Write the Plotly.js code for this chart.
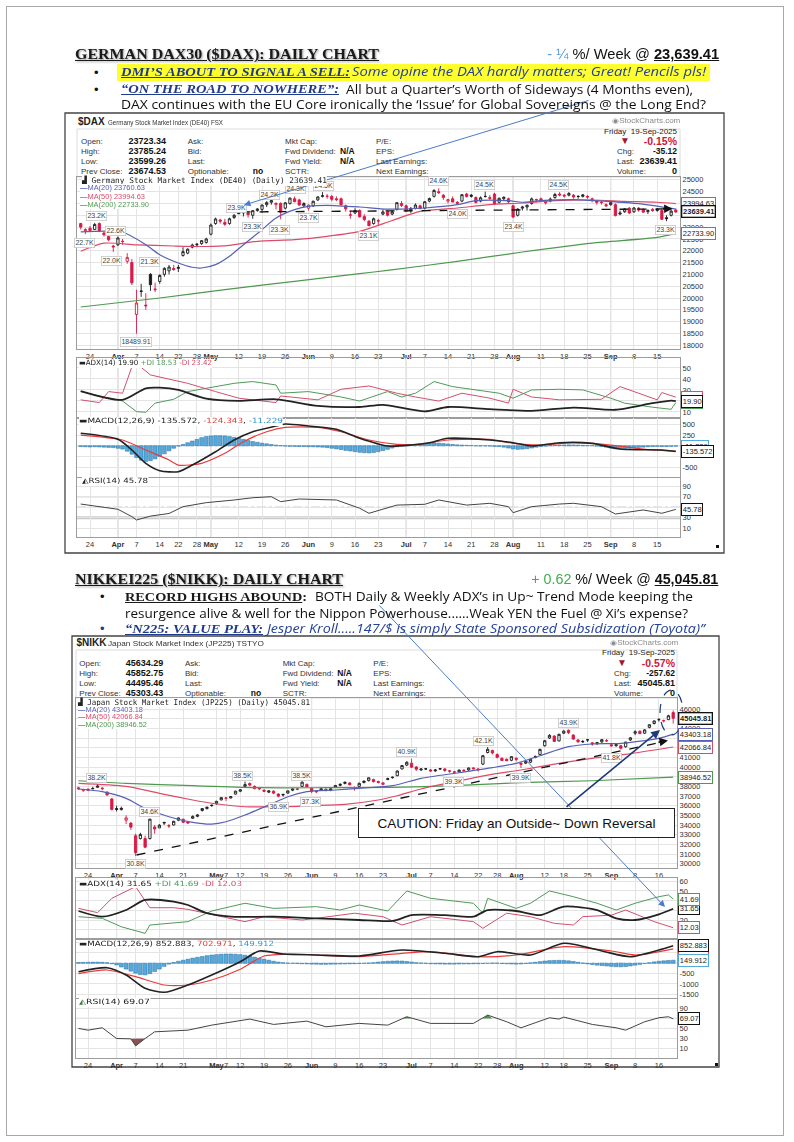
<!DOCTYPE html>
<html><head><meta charset="utf-8">
<script src="https://cdn.plot.ly/plotly-3.0.1.min.js"></script>
<style>
html,body{margin:0;padding:0;background:#fff;}
body{width:794px;height:1142px;position:relative;overflow:hidden;}
#page{position:absolute;left:6px;top:6px;width:778px;height:1130px;border:1px solid #a8a8a8;box-sizing:border-box;z-index:0;}
#plot{position:absolute;left:0;top:0;width:794px;height:1142px;z-index:1;}
#ov{position:absolute;left:0;top:0;width:794px;height:1142px;z-index:2;pointer-events:none;}
.t{position:absolute;white-space:nowrap;}
</style></head><body>
<div id="page"></div>
<div id="plot"></div>
<div id="ov"></div>
<script>
// ---------------- DATA ----------------
const dax_closed=['2025-04-18','2025-04-21','2025-05-01'];
const nk_closed=['2025-03-20','2025-04-29','2025-05-05','2025-05-06','2025-07-21','2025-08-11','2025-09-15'];

const dax_open=[
23150,22850,22950,22900,23150,22750,22600,22200,22250,22400,
21550,21500,19300,20300,19700,21000,20350,20700,21000,21150,
21250,21250,21800,21900,22150,22250,22300,22350,22700,23150,
23300,23200,23150,23400,23750,23600,23600,23500,23700,23750,
23950,24050,23950,24000,23800,24000,24200,24150,23900,23800,
23900,24150,24300,24300,24300,24200,24200,23900,23500,23600,
23700,23450,23250,23150,23250,23550,23650,23550,23750,24000,
23900,23700,23800,23900,23800,24100,24300,24500,24350,24100,
24200,24050,24100,24400,24350,24250,24100,24300,24250,24400,
24050,24200,24200,23900,23500,23800,23850,24000,24150,24200,
24100,24100,24250,24400,24350,24350,24350,24300,24300,24300,
24200,24100,24050,23950,23950,23950,23550,23650,23800,23650,
23800,23750,23650,23750,23700,23700,23400,23500,23723];
const dax_high=[
23180,22950,23050,23180,23200,22800,22650,22250,22600,22500,
21900,21650,20350,20600,20200,21050,20650,21000,21300,21400,
21400,21400,22150,22100,22300,22330,22450,22550,23150,23400,
23350,23350,23400,23550,23911,23700,23650,23720,23800,23950,
24100,24150,24050,24050,24050,24250,24300,24200,24050,23950,
24120,24300,24480,24400,24350,24300,24250,23950,23700,23800,
23750,23550,23300,23400,23350,23750,23700,23700,24050,24100,
23950,23850,24000,23950,24100,24250,24600,24640,24400,24200,
24300,24100,24400,24450,24400,24300,24300,24500,24350,24450,
24250,24300,24250,23950,23800,23900,23950,24250,24200,24250,
24150,24250,24450,24480,24400,24480,24400,24350,24400,24350,
24250,24150,24100,24000,24100,24000,23700,23800,23850,23850,
23850,23800,23750,23800,23800,23750,23500,23750,23785];
const dax_low=[
22900,22700,22800,22880,22800,22600,22400,21950,22200,22250,
21450,20550,18490,20050,19500,20300,20250,20600,20900,21000,
21150,21100,21750,21850,22100,22150,22250,22300,22650,23100,
23150,23050,23100,23350,23550,23450,23400,23350,23650,23600,
23850,23950,23750,23330,23750,23950,24050,23900,23850,23700,
23850,24100,24250,24200,24100,24100,23900,23650,23350,23550,
23400,23250,23050,23100,23050,23500,23450,23500,23700,23850,
23650,23600,23750,23750,23750,24050,24250,24400,24150,24000,
24050,23980,24050,24250,24250,24000,24050,24250,24150,23950,
24000,24100,24000,23380,23450,23700,23700,23950,24050,24050,
23950,24050,24200,24300,24250,24300,24200,24200,24250,24200,
24050,23950,23950,23850,23900,23450,23500,23600,23550,23600,
23650,23600,23550,23650,23650,23300,23250,23450,23599];
const dax_close=[
22999,22892,22853,23110,22839,22679,22462,22163,22540,22391,
21717,20642,19790,20280,19671,20563,20374,20955,21254,21311,
21206,21294,21962,22065,22242,22272,22426,22497,23087,23344,
23250,23116,23353,23499,23567,23639,23527,23696,23767,23935,
24036,24122,23999,23630,24028,24226,24076,23933,23997,23931,
24092,24276,24324,24304,24174,24163,23949,23771,23516,23699,
23435,23318,23057,23351,23269,23642,23498,23649,24033,23910,
23673,23790,23933,23787,24074,24207,24550,24457,24255,24161,
24060,24009,24371,24290,24308,24043,24241,24296,24218,23970,
24217,24262,24065,23426,23758,23846,23924,24193,24163,24081,
24025,24186,24378,24359,24315,24423,24277,24293,24363,24273,
24153,24046,24040,23902,24037,23487,23595,23770,23597,23807,
23718,23633,23704,23698,23749,23329,23359,23675,23639.41];

const dax_ma20_i=[0,9,14,17,21,24,26,29,32,35,39,42,46,49,53,60,66,74,81,85,92,95,99,106,113,120,128];
const dax_ma20_v=[22800,22780,22255,21833,21480,21300,21270,21410,21765,22255,22890,23385,23737,23880,23920,23850,23760,23808,23948,24117,24117,24050,24117,24160,24090,23990,23760.63];
const dax_ma50_i=[0,5,12,20,27,32,38,46,53,60,67,73,81,88,95,102,110,117,124,128];
const dax_ma50_v=[21980,22320,22250,22200,22180,22230,22400,22470,22610,22820,23280,23668,23808,23948,24020,24117,24145,24090,24050,23994.63];
const dax_ma200_i=[0,17,31,46,60,66,81,95,110,124,128];
const dax_ma200_v=[19620,20000,20352,20707,21030,21170,21550,21945,22325,22565,22733.9];

const dax_adx_i=[0,9,14,17,21,27,34,42,51,60,65,74,79,88,97,106,115,123,127,128];
const dax_adx_v=[29,21,31.5,32,30,22,20,21.5,15.5,14.5,16.5,10.5,14.5,12.5,11,14,12,18,20.3,19.9];
const dax_pdi_i=[0,6,9,12,14,16,20,23,28,33,37,42,43,49,56,60,66,69,72,76,80,85,90,93,97,103,108,114,117,123,127,128];
const dax_pdi_v=[28.5,22.5,19.9,10.3,9.7,18,21.5,28.5,32.4,36,37.6,34.5,27,28.5,23.6,19.9,28.5,23.6,27,37.6,33,30,27,22.5,30,30.6,30,22.5,18,14.3,12.4,18.53];
const dax_mdi_i=[0,4,6,9,11,12,15,19,23,29,34,42,43,51,56,62,68,72,77,82,88,92,93,97,103,112,116,120,124,125,128];
const dax_mdi_v=[21,18.5,28.5,27,51,54,43.6,39.7,36,28.5,22.5,18.5,24.5,21,30.6,33.6,27,23.6,19.9,27,22.5,18,30.6,23.6,21,21.5,33,27,21,27.6,23.42];

const dax_macd_i=[0,8,11,14,17,21,24,29,33,37,42,44,49,55,60,66,71,75,79,88,93,97,103,110,116,125,128];
const dax_macd_v=[291,150,-101,-414,-587,-611,-454,-141,134,329,463,510,463,385,174,-7,16,71,174,134,71,-7,71,56,-78,-101,-135.572];
const dax_sig_i=[0,9,14,19,21,26,31,35,40,44,51,56,62,68,73,79,88,93,99,106,114,121,128];
const dax_sig_v=[251,134,-101,-336,-454,-414,-179,94,329,432,432,329,134,33,33,134,150,56,16,71,16,-78,-124.343];
const dax_hist=[
-20,-25,-30,-25,-30,-35,-40,-45,-60,-80,
-130,-200,-280,-340,-370,-350,-310,-250,-190,-120,
-60,-10,30,70,110,150,190,215,230,235,
235,230,215,195,175,150,125,100,80,60,
45,30,15,5,-10,-15,-15,-20,-20,-25,
-25,-30,-35,-45,-60,-75,-90,-110,-125,-140,
-155,-165,-170,-160,-140,-115,-85,-55,-25,-5,
10,20,30,40,50,60,65,60,50,40,
30,20,15,10,5,0,-5,-5,-10,-15,
-20,-35,-55,-75,-85,-80,-70,-55,-35,-20,
-10,5,10,15,18,20,18,15,10,5,
0,-10,-20,-35,-55,-70,-75,-70,-60,-50,
-40,-35,-25,-20,-15,-20,-20,-15,-11.229];
const dax_rsi_i=[0,3,8,11,12,15,19,22,27,33,37,41,43,47,55,60,62,68,74,77,83,88,92,93,97,103,106,112,115,121,125,128];
const dax_rsi_v=[56,52,46,32,25.6,33,38,51,58.6,63.7,68,70,60.5,65.6,63.7,48,38.4,54,55.5,63.7,54,57.4,51,39.5,51,56,57.4,51,37,44.7,38.4,45.78];

const dax_tick_dates=['2025-03-24','2025-04-01','2025-04-07','2025-04-14','2025-04-22','2025-04-28','2025-05-02','2025-05-12','2025-05-19','2025-05-26','2025-06-02','2025-06-09','2025-06-16','2025-06-23','2025-07-01','2025-07-07','2025-07-14','2025-07-21','2025-07-28','2025-08-01','2025-08-11','2025-08-18','2025-08-25','2025-09-01','2025-09-08','2025-09-15'];
const dax_tick_text=['24','Apr','7','14','22','28','May','12','19','26','Jun','9','16','23','Jul','7','14','21','28','Aug','11','18','25','Sep','8','15'];
const dax_month_dates=['2025-04-01','2025-05-02','2025-06-02','2025-07-01','2025-08-01','2025-09-01'];
const dax_price_ticks=[18000,18500,19000,19500,20000,20500,21000,21500,22000,22500,23000,23500,24000,24500,25000];
const dax_adx_ticks=[10,20,30,40,50];
const dax_macd_ticks=[-500,-250,0,250,500];
const rsi_ticks=[10,30,50,70,90];

const dax_lbl_text=['23.2K','22.7K','22.6K','22.0K','21.3K','18489.91','23.9K','23.3K','24.2K','23.3K','24.3K','23.7K','24.5K','23.1K','24.6K','24.5K','24.0K','23.4K','24.5K','23.3K'];
const dax_lbl_i=[3.4,0.9,7.4,6.7,14.9,11.9,33.6,36.9,40.7,42.7,46.1,48.9,52.2,61.8,76.9,86.8,81,93,102.7,125.7];
const dax_lbl_p=[23452,22324,22818,21576,21520,18127,23803,22987,24365,22873,24606,23380,24720,22632,24957,24762,23549,22987,24762,22873];

// NIKKEI
const nk_open=[
37850,37550,37700,37750,37900,37750,37400,36700,35700,35600,
34500,34200,32900,32600,32600,32600,33800,33700,34200,33900,
34000,34500,34600,34300,34700,34900,35500,35700,36000,36200,
36600,36800,36800,37200,37500,38000,38300,38000,37800,37600,
37400,37500,37200,37100,37300,37600,37700,38000,38200,37800,
37500,37600,37700,37600,37900,38100,38300,38350,37800,38000,
38400,38600,38700,38500,38200,38700,38900,39100,39800,40200,
40400,40000,39700,39800,39700,39600,39800,39800,39600,39500,
39500,39600,39700,39900,39700,40300,41500,41700,41300,40900,
40800,40700,40900,40400,40400,40500,41000,41300,42200,43000,
43200,42700,43500,43800,43300,42800,42600,42800,42500,42400,
42600,42700,42300,42200,42200,42100,42800,43500,43700,43500,
44100,44500,44900,44800,44900,45634.29];
const nk_high=[
37950,37750,37800,37950,38220,37900,37500,36800,36000,35900,
35000,34300,33100,33200,32900,34639,34000,34100,34300,34100,
34450,34800,34650,34400,35000,35100,35750,35900,36100,36500,
36900,36900,37000,37550,37700,38494,38400,38100,37900,37700,
37600,37600,37300,37250,37550,37800,37850,38500,38300,37900,
37600,37800,37800,37800,38150,38300,38500,38450,38000,38400,
38600,38900,38800,38600,38450,38900,39000,39650,40200,40600,
40852,40100,39900,39900,39800,39800,39900,39900,39700,39600,
39750,39750,39950,40000,39900,41250,42065,41800,41400,41000,
40900,41100,41000,40500,40600,40850,41200,41900,42800,43400,
43300,43450,43800,43876,43400,42900,42800,42900,42600,42600,
42900,42900,42500,42400,42300,42600,43100,43800,43800,43900,
44400,44800,45050,44900,45400,45852.75];
const nk_low=[
37650,37450,37500,37700,37850,37600,37000,35500,35400,35500,
34100,33500,30793,32500,31600,32500,33100,33700,34000,33700,
33950,34400,34200,34100,34650,34800,35400,35600,35900,36100,
36550,36500,36750,37150,37400,37950,38000,37700,37600,37400,
37300,37200,36856,36950,37250,37500,37600,37950,37900,37300,
37300,37550,37500,37500,37850,38000,38200,38100,37550,37950,
38300,38500,38400,38300,38100,38650,38800,39050,39750,40100,
39900,39600,39600,39700,39500,39500,39700,39500,39400,39300,
39450,39500,39600,39750,39550,40200,41400,41300,40900,40600,
40600,40600,40600,39900,40300,40400,40900,41250,42100,42900,
42600,42650,43400,43400,42800,42500,42500,42600,42200,42300,
42500,42600,42100,42100,41800,42000,42700,43300,43400,43400,
44000,44400,44700,44600,44850,44495.46];
const nk_close=[
37752,37677,37608,37781,38027,37800,37120,35618,35624,35726,
34736,33781,31137,33013,31714,34609,33586,33982,34268,33920,
34378,34730,34280,34221,34869,35039,35706,35840,36045,36452,
36831,36780,36929,37503,37644,38183,38128,37756,37754,37499,
37529,37299,36986,37160,37532,37724,37722,38433,37965,37471,
37447,37747,37554,37742,38089,38212,38421,38173,37834,38311,
38537,38885,38488,38403,38354,38791,38942,39585,40151,40487,
39986,39762,39786,39811,39588,39689,39821,39646,39570,39460,
39678,39663,39901,39819,39775,41171,41826,41456,40998,40675,
40655,41070,40800,40291,40550,40795,41059,41820,42718,43275,
42649,43378,43714,43546,42889,42610,42633,42808,42394,42520,
42829,42718,42189,42310,41939,42580,43019,43644,43459,43838,
44373,44768,44902,44790,45303.43,45045.81];

const nk_ma20_i=[0,5,10,14,19,24,28,31,35,40,44,48,54,59,66,72,80,87,92,97,103,108,114,122,125];
const nk_ma20_v=[37725,37450,36760,35730,34860,34280,34100,34340,35035,36070,36930,37450,37620,37800,38070,38830,39410,39930,40380,41170,42100,42380,42450,42970,43403.18];
const nk_ma50_i=[0,10,17,24,28,35,42,49,56,63,67,72,79,86,93,101,108,115,125];
const nk_ma50_v=[38310,38000,37280,36590,36250,35890,35890,36000,36140,36590,37030,37725,38480,39170,39690,40380,40900,41310,42066.84];
const nk_ma200_i=[0,10,24,38,52,66,79,93,108,125];
const nk_ma200_v=[38580,38310,38070,37860,37860,37900,38070,38380,38580,38946.52];

const nk_adx_i=[0,5,10,14,20,23,27,32,41,50,59,66,70,77,83,86,92,97,102,109,113,117,122,125];
const nk_adx_v=[29.3,23.4,30.3,40.7,39,35.5,27,23.4,23.4,21.7,20,19,25,25,23.4,30.3,29.3,25,33.8,30.3,21.7,20,25.9,31.65];
const nk_pdi_i=[0,5,9,14,15,23,28,35,41,50,55,59,65,69,74,83,85,86,92,95,99,104,109,113,117,122,124,125];
const nk_pdi_v=[23.4,21.7,13,6.2,14.8,18.3,29.3,37.3,32,33.8,30.3,35.5,29.3,50,42.4,37.3,27,42.4,32,37.3,50,44.1,37.3,30.3,37.3,44.1,45.9,41.69];
const nk_mdi_i=[0,4,7,10,12,15,20,23,28,35,39,47,50,58,64,68,74,83,85,90,95,100,104,106,112,115,121,125];
const nk_mdi_v=[32,27.6,42.4,50,54.5,32.7,32.7,31,25.9,18.3,23.4,20,21.7,27,23.4,14.8,23.4,18.3,11.4,27,23.4,16.6,14.8,23.4,25,30.3,18.3,12.03];

const nk_macd_i=[0,6,10,14,18,23,28,34,38,43,50,59,68,77,84,88,95,102,110,116,122,125];
const nk_macd_v=[-407,-213,-567,-1212,-1407,-1052,-567,78,597,451,403,354,645,485,320,563,403,970,597,320,645,852.883];
const nk_sig_i=[0,6,12,18,23,28,34,39,45,59,68,74,84,92,102,112,117,125];
const nk_sig_v=[-504,-325,-650,-1052,-1052,-810,-291,354,451,320,485,563,320,403,805,597,403,702.971];
const nk_hist=[
40,45,50,55,55,50,30,-20,-80,-180,
-280,-380,-480,-550,-560,-500,-400,-280,-150,-40,
40,100,150,200,250,290,330,370,400,420,
440,450,450,440,420,390,350,300,250,200,
150,100,60,30,10,0,-10,-20,-30,-40,
-45,-50,-50,-45,-40,-35,-30,-25,-20,-10,
0,10,30,60,80,100,110,115,110,90,
60,30,10,-5,-20,-30,-35,-40,-40,-40,
-35,-30,-30,-25,-20,-10,0,10,5,-10,
-25,-35,-40,-30,-10,20,50,80,110,130,
140,145,140,120,90,50,10,-30,-60,-90,
-110,-130,-150,-165,-170,-160,-130,-90,-50,-10,
30,70,100,120,140,149.912];
const nk_rsi_i=[0,2,5,8,11,12,14,16,23,28,36,41,48,52,59,65,69,74,83,86,90,93,99,101,102,108,113,115,119,122,124,125];
const nk_rsi_v=[50,46.6,51.3,30,29.3,15.3,30,43.3,46.6,56.6,68.6,58,64.6,53.3,60,56.6,73.3,60,60,76.6,63.3,51.3,71.3,68.6,72.6,58,51.3,46.6,63.3,71.3,73.3,69.07];
const nk_rsi_low_i=[11,12,14], nk_rsi_low_v=[29.3,15.3,30];
const nk_rsi_hi1_i=[68,69,70], nk_rsi_hi1_v=[70,73.3,70];
const nk_rsi_hi2_i=[85,86,87], nk_rsi_hi2_v=[70,76.6,70];

const nk_tick_dates=['2025-03-24','2025-04-01','2025-04-07','2025-04-14','2025-04-21','2025-05-01','2025-05-07','2025-05-12','2025-05-19','2025-05-26','2025-06-02','2025-06-09','2025-06-16','2025-06-23','2025-07-01','2025-07-07','2025-07-14','2025-07-22','2025-07-28','2025-08-01','2025-08-12','2025-08-18','2025-08-25','2025-09-01','2025-09-08','2025-09-16'];
const nk_tick_text=['24','Apr','7','14','21','May','7','12','19','26','Jun','9','16','23','Jul','7','14','22','28','Aug','12','18','25','Sep','8','16'];
const nk_month_dates=['2025-04-01','2025-05-01','2025-06-02','2025-07-01','2025-08-01','2025-09-01'];
const nk_price_ticks=[30000,31000,32000,33000,34000,35000,36000,37000,38000,39000,40000,41000,42000,43000,44000,45000,46000];
const nk_adx_ticks=[10,20,30,40,50,60];
const nk_macd_ticks=[-1500,-1000,-500,0,500,1000];

const nk_lbl_text=['38.2K','34.6K','30.8K','38.5K','38.5K','36.9K','37.3K','40.9K','39.3K','42.1K','39.9K','43.9K','41.8K'];
const nk_lbl_i=[3.8,14.9,11.9,34.5,46.9,42.1,48.7,69,78.8,85.1,92.9,103,112];
const nk_lbl_p=[38894,35378,29938,39070,39070,35895,36412,41520,38480,42690,38894,44520,40963];

// tick labels that sit under the value tags in the reference (gridline kept, label blank)
const dax_price_hidden=[23500,24000], dax_adx_hidden=[20], dax_macd_hidden=[0,-250], dax_rsi_hidden=[50];
const nk_price_hidden=[39000,42000,43000,45000], nk_adx_hidden=[10,30,40], nk_macd_hidden=[0,500], nk_rsi_hidden=[70];

// ---------------- BUILD ----------------
const W=794,H=1142;
const SANS="'Liberation Sans',Arial,sans-serif", SERIF="'Liberation Serif','DejaVu Serif',serif",
      BODY="'Open Sans','Liberation Sans',sans-serif", MONO="'DejaVu Sans Mono','Liberation Mono',monospace", DJ="'DejaVu Sans',sans-serif";
function tradingDays(a,b,closed){const out=[];const d=new Date(a+'T00:00:00Z');const e=new Date(b+'T00:00:00Z');
  while(d<=e){const wd=d.getUTCDay();const s=d.toISOString().slice(0,10);if(wd!==0&&wd!==6&&closed.indexOf(s)<0)out.push(s);d.setUTCDate(d.getUTCDate()+1);}return out;}
const dax_dates=tradingDays('2025-03-20','2025-09-19',dax_closed);
const nk_dates=tradingDays('2025-03-19','2025-09-19',nk_closed);
const fx=p=>p/W, fy=p=>1-p/H, dom=(t,b)=>[fy(b),fy(t)];
const at=(dates,idx)=>idx.map(i=>dates[i]);
const boldMonths=a=>a.map(s=>/^[A-Z]/.test(s)?'<b>'+s+'</b>':s);

function candles(dates,o,h,l,c,xa,ya){
  const A={x:[],open:[],high:[],low:[],close:[]},B={x:[],open:[],high:[],low:[],close:[]};
  for(let i=0;i<dates.length;i++){const prev=i?c[i-1]:o[i];const T=c[i]>=prev?A:B;
    T.x.push(dates[i]);T.open.push(o[i]);T.high.push(h[i]);T.low.push(l[i]);T.close.push(c[i]);}
  const base={type:'candlestick',xaxis:xa,yaxis:ya,whiskerwidth:0,hoverinfo:'skip',showlegend:false};
  return [Object.assign({},base,A,{increasing:{line:{color:'#1a1a1a',width:0.9},fillcolor:'#ffffff'},decreasing:{line:{color:'#1a1a1a',width:0.9},fillcolor:'#1a1a1a'}}),
          Object.assign({},base,B,{increasing:{line:{color:'#d81b45',width:0.9},fillcolor:'#ffffff'},decreasing:{line:{color:'#d81b45',width:0.9},fillcolor:'#d81b45'}})];
}
function ln(dates,idx,vals,xa,ya,color,width,shape){return {type:'scatter',mode:'lines',x:at(dates,idx),y:vals,xaxis:xa,yaxis:ya,
  line:{color:color,width:width,shape:shape||'linear',smoothing:0.7},hoverinfo:'skip',showlegend:false};}
function fillTri(dates,idx,vals,xa,ya,color){return {type:'scatter',mode:'lines',x:at(dates,idx),y:vals,xaxis:xa,yaxis:ya,fill:'toself',fillcolor:color,line:{width:0,color:color},hoverinfo:'skip',showlegend:false};}
function bars(dates,vals,xa,ya){return {type:'bar',x:dates,y:vals,xaxis:xa,yaxis:ya,marker:{color:'#55a9dc',line:{color:'#2a6e9e',width:0.5}},hoverinfo:'skip',showlegend:false};}

const C20='#5660b4',C50='#dc4b6a',C200='#4d9a4d',CPDI='#4f9a5a',CMDI='#d2506e',CSIG='#ea3b3b';
const traces=[
  ln(dax_dates,dax_ma200_i,dax_ma200_v,'x','y',C200,1.2,'spline'),
  ln(dax_dates,dax_ma50_i,dax_ma50_v,'x','y',C50,1.2,'spline'),
  ln(dax_dates,dax_ma20_i,dax_ma20_v,'x','y',C20,1.2,'spline'),
  ...candles(dax_dates,dax_open,dax_high,dax_low,dax_close,'x','y'),
  ln(dax_dates,dax_pdi_i,dax_pdi_v,'x2','y2',CPDI,1),
  ln(dax_dates,dax_mdi_i,dax_mdi_v,'x2','y2',CMDI,1),
  ln(dax_dates,dax_adx_i,dax_adx_v,'x2','y2','#222',1.8,'spline'),
  bars(dax_dates,dax_hist,'x3','y3'),
  ln(dax_dates,dax_sig_i,dax_sig_v,'x3','y3',CSIG,1.2,'spline'),
  ln(dax_dates,dax_macd_i,dax_macd_v,'x3','y3','#222',1.6,'spline'),
  ln(dax_dates,dax_rsi_i,dax_rsi_v,'x4','y4','#444',1),

  ln(nk_dates,nk_ma200_i,nk_ma200_v,'x5','y5',C200,1.2,'spline'),
  ln(nk_dates,nk_ma50_i,nk_ma50_v,'x5','y5',C50,1.2,'spline'),
  ln(nk_dates,nk_ma20_i,nk_ma20_v,'x5','y5',C20,1.2,'spline'),
  ...candles(nk_dates,nk_open,nk_high,nk_low,nk_close,'x5','y5'),
  ln(nk_dates,nk_pdi_i,nk_pdi_v,'x6','y6',CPDI,1),
  ln(nk_dates,nk_mdi_i,nk_mdi_v,'x6','y6',CMDI,1),
  ln(nk_dates,nk_adx_i,nk_adx_v,'x6','y6','#222',1.8,'spline'),
  bars(nk_dates,nk_hist,'x7','y7'),
  ln(nk_dates,nk_sig_i,nk_sig_v,'x7','y7',CSIG,1.2,'spline'),
  ln(nk_dates,nk_macd_i,nk_macd_v,'x7','y7','#222',1.6,'spline'),
  fillTri(nk_dates,nk_rsi_low_i,nk_rsi_low_v,'x8','y8','#8a5252'),
  fillTri(nk_dates,nk_rsi_hi1_i,nk_rsi_hi1_v,'x8','y8','#4f8f4f'),
  fillTri(nk_dates,nk_rsi_hi2_i,nk_rsi_hi2_v,'x8','y8','#4f8f4f'),
  ln(nk_dates,nk_rsi_i,nk_rsi_v,'x8','y8','#444',1)
];

function xax(d,anchor,dates,range,tv,tt,labels){return {domain:d,anchor:anchor,type:'category',categoryorder:'array',categoryarray:dates,range:range,
  tickvals:tv,ticktext:boldMonths(tt),showticklabels:labels,tickangle:0,showgrid:true,gridcolor:'#e4e4e4',gridwidth:1,showline:true,mirror:true,
  linecolor:'#9c9c9c',linewidth:1,ticks:'',zeroline:false,tickfont:{size:7.5,color:'#333',family:SANS},rangeslider:{visible:false},fixedrange:true};}
function yax(d,anchor,range,tv,hidden){return {domain:d,anchor:anchor,side:'right',range:range,tickvals:tv,
  ticktext:tv.map(v=>hidden.indexOf(v)>=0?'':String(v)),showgrid:true,gridcolor:'#e4e4e4',
  showline:true,mirror:true,linecolor:'#9c9c9c',linewidth:1,ticks:'',zeroline:false,tickfont:{size:7.5,color:'#333',family:SANS},fixedrange:true};}
const DX=[fx(77),fx(680)], DR=[-0.8,128.9];
const NX=[fx(76),fx(677)], NR=[-0.53,125.8];

const layout={width:W,height:H,margin:{l:0,r:0,t:0,b:0},paper_bgcolor:'rgba(0,0,0,0)',plot_bgcolor:'#ffffff',showlegend:false,
  hovermode:false,font:{family:SANS},bargap:0.2,
  xaxis:xax(DX,'y',dax_dates,DR,dax_tick_dates,dax_tick_text,true),
  xaxis2:xax(DX,'y2',dax_dates,DR,dax_tick_dates,dax_tick_text,false),
  xaxis3:xax(DX,'y3',dax_dates,DR,dax_tick_dates,dax_tick_text,false),
  xaxis4:xax(DX,'y4',dax_dates,DR,dax_tick_dates,dax_tick_text,true),
  yaxis:yax(dom(177,349),'x',[17843,25119],dax_price_ticks,dax_price_hidden),
  yaxis2:yax(dom(358,418),'x2',[4.5,59],dax_adx_ticks,dax_adx_hidden),
  yaxis3:yax(dom(418,477),'x3',[-735,651],dax_macd_ticks,dax_macd_hidden),
  yaxis4:yax(dom(478,537),'x4',[-6.8,105.6],rsi_ticks,dax_rsi_hidden),
  xaxis5:xax(NX,'y5',nk_dates,NR,nk_tick_dates,nk_tick_text,true),
  xaxis6:xax(NX,'y6',nk_dates,NR,nk_tick_dates,nk_tick_text,false),
  xaxis7:xax(NX,'y7',nk_dates,NR,nk_tick_dates,nk_tick_text,false),
  xaxis8:xax(NX,'y8',nk_dates,NR,nk_tick_dates,nk_tick_text,true),
  yaxis5:yax(dom(698,868),'x5',[29555,47138],nk_price_ticks,nk_price_hidden),
  yaxis6:yax(dom(878,938),'x6',[1.4,63.4],nk_adx_ticks,nk_adx_hidden),
  yaxis7:yax(dom(940,998),'x7',[-1683,1130],nk_macd_ticks,nk_macd_hidden),
  yaxis8:yax(dom(999,1058),'x8',[-8.8,108.6],rsi_ticks,nk_rsi_hidden)
};

// shapes
const shapes=[];
const prect=(x0,y0,x1,y1,lc,lw,fill,layer,dash)=>({type:'rect',xref:'paper',yref:'paper',x0:fx(x0),x1:fx(x1),y0:fy(y1),y1:fy(y0),
  line:{color:lc,width:lw,dash:dash||'solid'},fillcolor:fill||'rgba(0,0,0,0)',layer:layer||'below'});
shapes.push(prect(65,113,724,553,'#444',1.3,'#ffffff','below'));
shapes.push(prect(77,129,680,177,'#dcdcdc',1,'rgba(0,0,0,0)','below'));
shapes.push(prect(72,636,719,1067,'#444',1.3,'#ffffff','below'));
shapes.push(prect(76,650,677,698,'#dcdcdc',1,'rgba(0,0,0,0)','below'));
[['x','y'],['x2','y2'],['x3','y3'],['x4','y4']].forEach(p=>dax_month_dates.forEach(d=>{const i=dax_dates.indexOf(d);
  shapes.push({type:'line',xref:p[0],yref:p[1]+' domain',x0:i,x1:i,y0:0,y1:1,line:{color:'#c2c2c2',width:1},layer:'below'});}));
[['x5','y5'],['x6','y6'],['x7','y7'],['x8','y8']].forEach(p=>nk_month_dates.forEach(d=>{const i=nk_dates.indexOf(d);
  shapes.push({type:'line',xref:p[0],yref:p[1]+' domain',x0:i,x1:i,y0:0,y1:1,line:{color:'#c2c2c2',width:1},layer:'below'});}));
const hline=(xa,ya,v,color,w,dash)=>({type:'line',xref:xa+' domain',yref:ya,x0:0,x1:1,y0:v,y1:v,line:{color:color,width:w,dash:dash||'solid'},layer:'below'});
shapes.push(hline('x4','y4',70,'#9a9a9a',1),hline('x4','y4',30,'#c9c9c9',3),hline('x4','y4',50,'#aaaaaa',1,'dashdot'));
shapes.push(hline('x8','y8',70,'#8a8a8a',1),hline('x8','y8',30,'#8a8a8a',1),hline('x8','y8',50,'#aaaaaa',1,'dashdot'));
shapes.push(hline('x3','y3',0,'#5aa0d8',1,'dashdot'),hline('x7','y7',0,'#5aa0d8',1,'dashdot'));
// hand-drawn trend lines
shapes.push({type:'line',xref:'x',yref:'y',x0:34.6,y0:23640,x1:126.2,y1:23770,line:{color:'#111',width:1.3,dash:'dash'},layer:'above'});
shapes.push({type:'line',xref:'x5',yref:'y5',x0:12.2,y0:30900,x1:123,y1:42620,line:{color:'#111',width:1.3,dash:'dash'},layer:'above'});
shapes.push({type:'circle',xref:'paper',yref:'paper',x0:fx(660),x1:fx(683),y0:fy(735),y1:fy(690),line:{color:'#1f3a7a',width:1.2,dash:'dash'},layer:'above'});

// annotations
const ann=[];
function klabels(txt,ii,pp,xa,ya){txt.forEach((t,k)=>ann.push({xref:xa,yref:ya,x:ii[k],y:pp[k],text:t,showarrow:false,
  font:{size:7,color:'#444',family:SANS},bgcolor:'#ffffff',bordercolor:'#c6c6c6',borderwidth:0.8,borderpad:0.6}));}
klabels(dax_lbl_text,dax_lbl_i,dax_lbl_p,'x','y');
klabels(nk_lbl_text,nk_lbl_i,nk_lbl_p,'x5','y5');
function tag(xp,ya,v,txt,color,bold){ann.push({xref:'paper',x:fx(xp),xanchor:'left',yref:ya,y:v,text:bold?'<b>'+txt+'</b>':txt,showarrow:false,
  font:{size:7.5,color:'#222',family:SANS},bgcolor:'#ffffff',bordercolor:color,borderwidth:bold?1.3:1,borderpad:0.8});}
tag(681,'y',23760.63,'23760.63',C20); tag(681,'y',23994.63,'23994.63',C50); tag(681,'y',23639.41,'23639.41','#111',true); tag(681,'y',22733.90,'22733.90',C200);
tag(681,'y2',18.53,'18.53',CPDI); tag(681,'y2',23.42,'23.42',CMDI); tag(681,'y2',19.90,'19.90','#111');
tag(681,'y3',-124.343,'-124.343',CSIG); tag(681,'y3',-11.229,'-11.229','#55a9dc'); tag(681,'y3',-135.572,'-135.572','#111');
tag(681,'y4',45.78,'45.78','#111');
tag(678,'y5',38946.52,'38946.52',C200); tag(678,'y5',42066.84,'42066.84',C50); tag(678,'y5',43403.18,'43403.18',C20); tag(678,'y5',45045.81,'45045.81','#111',true);
tag(678,'y6',12.03,'12.03',CMDI); tag(678,'y6',31.65,'31.65','#111'); tag(678,'y6',41.69,'41.69',CPDI);
tag(678,'y7',702.971,'702.971',CSIG); tag(678,'y7',149.912,'149.912','#55a9dc'); tag(678,'y7',852.883,'852.883','#111');
tag(678,'y8',69.07,'69.07','#111');
// arrowheads of dashed lines
ann.push({xref:'x',yref:'y',x:127.3,y:23775,ax:-11,ay:0,text:'',showarrow:true,arrowhead:2,arrowsize:1.3,arrowwidth:1.3,arrowcolor:'#111'});
ann.push({xref:'x5',yref:'y5',x:123.9,y:42740,ax:-11,ay:2,text:'',showarrow:true,arrowhead:2,arrowsize:1.3,arrowwidth:1.3,arrowcolor:'#111'});
// hand-drawn arrows
ann.push({xref:'paper',yref:'paper',x:fx(244),y:fy(205),ax:346,ay:-105,text:'',showarrow:true,arrowhead:2,arrowsize:1.3,arrowwidth:1,arrowcolor:'#4a7cc9'});
ann.push({xref:'paper',yref:'paper',x:fx(665),y:fy(907),ax:-287,ay:-303,text:'',showarrow:true,arrowhead:2,arrowsize:1.3,arrowwidth:1,arrowcolor:'#4a7cc9'});
ann.push({xref:'paper',yref:'paper',x:fx(358),y:fy(808),xanchor:'left',yanchor:'top',width:313,height:26,text:'CAUTION: Friday an Outside~ Down Reversal',
  showarrow:false,align:'center',valign:'middle',bgcolor:'#ffffff',bordercolor:'#222',borderwidth:1,borderpad:1,font:{size:13.5,color:'#111',family:SANS}});
ann.push({xref:'paper',yref:'paper',x:fx(660),y:fy(730),ax:-95,ay:78,text:'',showarrow:true,arrowhead:2,arrowsize:1.1,arrowwidth:1.6,arrowcolor:'#1f3a7a'});
layout.shapes=shapes; layout.annotations=ann;

Plotly.newPlot('plot',traces,layout,{staticPlot:true,displayModeBar:false});

// ---------------- TEXT OVERLAY ----------------
const ov=document.getElementById('ov');
function box(x,y,w,h,css){const d=document.createElement('div');d.style.cssText='position:absolute;left:'+x+'px;top:'+y+'px;width:'+w+'px;height:'+h+'px;'+(css||'');ov.appendChild(d);return d;}
function T(x,yc,size,html,o){o=o||{};const d=document.createElement('div');d.className='t';
  d.style.fontSize=size+'px';d.style.lineHeight=(size*1.2)+'px';d.style.top=(yc-size*0.6)+'px';
  d.style.fontFamily=o.font||SANS;d.style.color=o.color||'#222';if(o.bold)d.style.fontWeight='bold';if(o.italic)d.style.fontStyle='italic';
  if(o.bg)d.style.background=o.bg;if(o.css)d.style.cssText+=';'+o.css;
  if(o.right)d.style.right=(W-x)+'px';else d.style.left=x+'px';
  d.innerHTML=html;ov.appendChild(d);
  if(o.w){const r=d.getBoundingClientRect().width;if(r>0){d.style.transformOrigin=(o.right?'right':'left')+' center';d.style.transform='scaleX('+(o.w/r).toFixed(4)+')';}}
  return d;}
const NAVY='#1f3a8a', UL='text-decoration:underline;';
// DAX header
T(75,54.5,15.5,'GERMAN DAX30 ($DAX): DAILY CHART',{font:SERIF,bold:true,color:'#1a1a1a',w:304,css:UL+'text-shadow:1px 1px 2px rgba(0,0,0,0.4)'});
T(719,54.5,14,'<span style="color:#5b9bd5">- ¼</span> %/ Week @ <b style="'+UL+'">23,639.41</b>',{right:true,color:'#111',w:172});
box(117,64,593,16.5,'background:#ffff2e;');
T(94,72.5,13,'•',{color:'#111'}); T(94,89.5,13,'•',{color:'#111'});
T(121,72,13.5,"DMI’S ABOUT TO SIGNAL A SELL:",{font:SERIF,bold:true,italic:true,color:NAVY,w:229,css:UL});
T(352,72,13,'Some opine the DAX hardly matters; Great! Pencils pls!',{font:BODY,italic:true,color:'#23409a',w:354});
T(121,89.5,13.5,'“ON THE ROAD TO NOWHERE”:',{font:SERIF,bold:true,italic:true,color:NAVY,w:218,css:UL});
T(346,89.5,13,'All but a Quarter’s Worth of Sideways (4 Months even),',{font:BODY,color:'#111',w:347});
T(121,105,13,'DAX continues with the EU Core ironically the ‘Issue’ for Global Sovereigns @ the Long End?',{font:BODY,color:'#111',w:585});
// NIKKEI header
T(75,579.5,15.5,'NIKKEI225 ($NIKK): DAILY CHART',{font:SERIF,bold:true,color:'#1a1a1a',w:268,css:UL+'text-shadow:1px 1px 2px rgba(0,0,0,0.4)'});
T(718,579.5,14,'<span style="color:#3fae4f">+ 0.62</span> %/ Week @ <b style="'+UL+'">45,045.81</b>',{right:true,color:'#111',w:187});
T(100,597,13,'•',{color:'#111'}); T(100,629,13,'•',{color:NAVY});
T(125,597,13.5,'<span style="'+UL+'">RECORD HIGHS ABOUND</span>:',{font:SERIF,bold:true,color:'#1a1a1a',w:182});
T(315,597,13,'BOTH Daily &amp; Weekly ADX’s in Up~ Trend Mode keeping the',{font:BODY,color:'#111',w:378});
T(125,613.5,13,'resurgence alive &amp; well for the Nippon Powerhouse......Weak YEN the Fuel @ Xi’s expense?',{font:BODY,color:'#111',w:563});
T(125,629,13.5,'“N225: VALUE PLAY:',{font:SERIF,bold:true,italic:true,color:NAVY,w:138,css:UL});
T(267,629,13,'Jesper Kroll.....147/$ is simply State Sponsored Subsidization (Toyota)”',{font:BODY,italic:true,color:'#23409a',w:438});

// StockCharts headers
function scHeader(o){
  T(o.x0,o.yTitle,10,o.sym,{bold:true,color:'#222'});
  T(108,o.yTitle+0.5,7.5,o.name,{color:'#333',w:o.nameW});
  T(o.xr+3,o.yTitle,7,'◉StockCharts.com',{right:true,color:'#8a8a8a',w:68});
  const c1=['Open:','High:','Low:','Prev Close:'],c2=['Ask:','Bid:','Last:','Optionable:'],c3=['Mkt Cap:','Fwd Dividend:','Fwd Yield:','SCTR:'],c4=['P/E:','EPS:','Last Earnings:','Next Earnings:'];
  o.rows.forEach((y,k)=>{
    T(o.cx[0],y,8,c1[k],{color:'#333'}); T(o.vr,y,9,o.vals[k],{right:true,bold:true,color:'#111'});
    T(o.cx[1],y,8,c2[k],{color:'#333'}); T(o.cx[2],y,8,c3[k],{color:'#333'}); T(o.cx[3],y,8,c4[k],{color:'#333'});
  });
  T(o.noX,o.rows[3],8.5,'no',{bold:true,color:'#111'});
  T(o.naX,o.rows[1],8.5,'N/A',{bold:true,color:'#111'}); T(o.naX,o.rows[2],8.5,'N/A',{bold:true,color:'#111'});
  T(o.xr,o.yDate,8,'Friday&nbsp; 19-Sep-2025',{right:true,color:'#222'});
  T(o.lx+3,o.rows[0],10,'▼',{color:'#a3162f'});
  T(o.xr,o.rows[0],10.5,o.pct,{right:true,bold:true,color:'#c8173b'});
  T(o.lx,o.rows[1],8,'Chg:',{color:'#333'}); T(o.xr,o.rows[1],8.5,o.chg,{right:true,bold:true,color:'#111'});
  T(o.lx,o.rows[2],8,'Last:',{color:'#333'}); T(o.xr,o.rows[2],9,o.last,{right:true,bold:true,color:'#111'});
  T(o.lx,o.rows[3],8,'Volume:',{color:'#333'}); T(o.xr,o.rows[3],9,'0',{right:true,bold:true,color:'#111'});
}
scHeader({x0:78,yTitle:121.5,sym:'$DAX',name:'Germany Stock Market Index (DE40) FSX',nameW:115,xr:677,yDate:132,lx:617,
  rows:[141.3,151.3,161.3,171.3],cx:[81,187.7,285,376],vr:166,vals:['23723.34','23785.24','23599.26','23674.53'],noX:252.7,naX:340,
  pct:'-0.15%',chg:'-35.12',last:'23639.41'});
scHeader({x0:76.5,yTitle:643,sym:'$NIKK',name:'Japan Stock Market Index (JP225) TSTYO',nameW:156,xr:675,yDate:652.7,lx:614,
  rows:[663.3,673.3,683.3,693.3],cx:[79.3,185,282.7,373.3],vr:163.3,vals:['45634.29','45852.75','44495.46','45303.43'],noX:250.7,naX:337.3,
  pct:'-0.57%',chg:'-257.62',last:'45045.81'});

// legends
const WB='#ffffff';
T(81.5,181,7.8,'<span style="font-size:8px">▟</span> Germany Stock Market Index (DE40) (Daily) 23639.41',{font:MONO,color:'#222',w:245,bg:WB});
T(80,188.5,7,'<b>—</b>MA(20) 23760.63',{color:C20,w:65,bg:WB});
T(80,196.8,7,'<b>—</b>MA(50) 23994.63',{color:C50,w:65,bg:WB});
T(80,205.2,7,'<b>—</b>MA(200) 22733.90',{color:C200,w:69,bg:WB});
T(79,363.3,7.2,'<b>▬</b>ADX(14) 19.90 <span style="color:'+CPDI+'">+DI 18.53</span> <span style="color:'+CMDI+'">-DI 23.42</span>',{font:DJ,color:'#222',w:133,bg:WB});
T(79,421.7,7.2,'<b>▬</b>MACD(12,26,9) -135.572, <span style="color:'+CSIG+'">-124.343</span>, <span style="color:#3a95d0">-11.229</span>',{font:DJ,color:'#222',w:204,bg:WB});
T(81.5,481.7,7.2,'<span style="font-size:7px">◭</span>RSI(14) 45.78',{font:DJ,color:'#222',w:66,bg:WB});

T(78,702.7,7.8,'<span style="font-size:8px">▟</span> Japan Stock Market Index (JP225) (Daily) 45045.81',{font:MONO,color:'#222',w:232,bg:WB});
T(78,710,7,'<b>—</b>MA(20) 43403.18',{color:C20,w:65,bg:WB});
T(78,717.3,7,'<b>—</b>MA(50) 42066.84',{color:C50,w:65,bg:WB});
T(78,724.7,7,'<b>—</b>MA(200) 38946.52',{color:C200,w:69,bg:WB});
T(79,884,7.2,'<b>▬</b>ADX(14) 31.65 <span style="color:'+CPDI+'">+DI 41.69</span> <span style="color:'+CMDI+'">-DI 12.03</span>',{font:DJ,color:'#222',w:163,bg:WB});
T(79,944,7.2,'<b>▬</b>MACD(12,26,9) 852.883, <span style="color:'+CSIG+'">702.971</span>, <span style="color:#3a95d0">149.912</span>',{font:DJ,color:'#222',w:195,bg:WB});
T(79,1002.7,7.2,'<span style="font-size:7px;color:#3a7a3a">◭</span>RSI(14) 69.07',{font:DJ,color:'#222',w:71,bg:WB});
// small corner marks
box(716,545,3,3,'background:#111;'); box(715,1063,3,3,'background:#111;');
</script></body></html>
